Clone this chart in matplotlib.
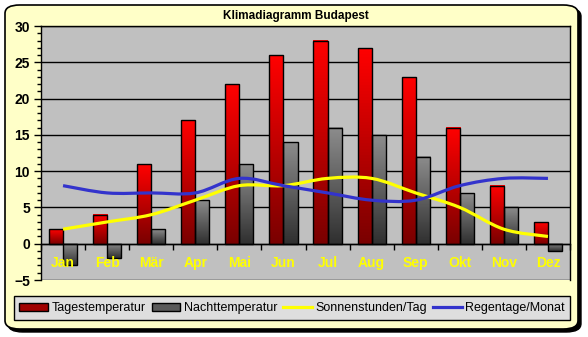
import matplotlib
matplotlib.use('Agg')
import matplotlib.pyplot as plt
import numpy as np
from matplotlib.patches import FancyBboxPatch, Patch
from matplotlib.lines import Line2D
from matplotlib.path import Path
from matplotlib.patches import PathPatch
from matplotlib.colors import LinearSegmentedColormap

months = ['Jan', 'Feb', 'Mär', 'Apr', 'Mai', 'Jun', 'Jul', 'Aug', 'Sep', 'Okt', 'Nov', 'Dez']
tag_temp = [2, 4, 11, 17, 22, 26, 28, 27, 23, 16, 8, 3]
nacht_temp = [-3, -2, 2, 6, 11, 14, 16, 15, 12, 7, 5, -1]
sonne = [2, 3, 4, 6, 8, 8, 9, 9, 7, 5, 2, 1]
regen = [8, 7, 7, 7, 9, 8, 7, 6, 6, 8, 9, 9]

plt.rcParams['font.family'] = ['Liberation Sans', 'DejaVu Sans']

fig = plt.figure(figsize=(5.88, 3.37), dpi=100)
fig.patch.set_facecolor('white')

# rahmen mit schatten
W, H = 588, 337
shadow = FancyBboxPatch((8 / W, 5 / H), 573 / W, 324 / H, boxstyle='round,pad=0,rounding_size=0.025',
                        transform=fig.transFigure, facecolor='black', edgecolor='black', zorder=0)
frame = FancyBboxPatch((5 / W, 8 / H), 573 / W, 324 / H, boxstyle='round,pad=0,rounding_size=0.025',
                       transform=fig.transFigure, facecolor='#FFFFC8', edgecolor='black', lw=1.2, zorder=1)
fig.patches.extend([shadow, frame])

ax = fig.add_axes([41 / W, 1 - 280 / H, 529 / W, 254 / H], zorder=2)
ax.set_facecolor('#C0C0C0')

x = np.arange(len(months))
bw = 0.32

# gitterlinien unter den balken
for yv in range(-5, 31, 5):
    ax.axhline(yv, color='black', lw=1, zorder=0.5)

red_cmap = LinearSegmentedColormap.from_list('r', ['#7A0000', '#FF0000'])
gray_cmap = LinearSegmentedColormap.from_list('g', ['#303030', '#8C8C8C'])
grad = np.linspace(0, 1, 64).reshape(-1, 1)

for i in range(len(months)):
    for val, x0, cm in [(tag_temp[i], x[i] - bw, red_cmap), (nacht_temp[i], x[i], gray_cmap)]:
        lo, hi = min(0, val), max(0, val)
        ax.imshow(grad, cmap=cm, extent=[x0, x0 + bw, lo, hi], origin='lower', aspect='auto', zorder=1)
ax.bar(x - bw / 2, tag_temp, bw, facecolor='none', edgecolor='black', lw=1, zorder=1.2)
ax.bar(x + bw / 2, nacht_temp, bw, facecolor='none', edgecolor='black', lw=1, zorder=1.2)


def smooth(xs, ys):
    pts = np.column_stack([xs, ys]).astype(float)
    n = len(pts)
    verts = [pts[0]]
    codes = [Path.MOVETO]
    for i in range(n - 1):
        p0 = pts[max(i - 1, 0)]
        p1 = pts[i]
        p2 = pts[i + 1]
        p3 = pts[min(i + 2, n - 1)]
        c1 = p1 + (p2 - p0) / 6
        c2 = p2 - (p3 - p1) / 6
        verts += [c1, c2, p2]
        codes += [Path.CURVE4] * 3
    return Path(verts, codes)


ax.add_patch(PathPatch(smooth(x, sonne), facecolor='none', edgecolor='#FFFF00', lw=2.3, zorder=1.5))
ax.add_patch(PathPatch(smooth(x, regen), facecolor='none', edgecolor='#3333CC', lw=2.3, zorder=1.6))

ax.set_xlim(-0.5, 11.5)
ax.set_ylim(-5, 30)
ax.set_yticks(range(-5, 31, 5))
ax.set_yticks(range(-5, 31, 1), minor=True)
ax.set_axisbelow(False)
ax.tick_params(axis='y', which='major', length=5, width=1, labelsize=10, pad=3)
ax.tick_params(axis='y', which='minor', length=3, width=1)
for lab in ax.get_yticklabels():
    lab.set_fontweight('bold')

ax.spines['bottom'].set_position(('data', 0))
ax.set_xticks(np.arange(-0.5, 12, 1))
ax.set_xticklabels([])
ax.set_xticks(x, minor=True)
ax.set_xticklabels(months, minor=True)
ax.tick_params(axis='x', which='major', length=4, width=1, direction='out')
ax.tick_params(axis='x', which='minor', length=0, pad=9, labelsize=10, labelcolor='#FFFF00')
for lab in ax.get_xticklabels(minor=True):
    lab.set_fontweight('bold')
for s in ['top', 'right', 'left', 'bottom']:
    ax.spines[s].set_linewidth(1)

fig.text(296 / W, 1 - 16 / H, 'Klimadiagramm Budapest', ha='center', va='center',
         fontsize=8.5, fontweight='bold', zorder=3)

handles = [Patch(facecolor='#A00000', edgecolor='black'),
           Patch(facecolor='#5A5A5A', edgecolor='black'),
           Line2D([], [], color='#FFFF00', lw=2.3),
           Line2D([], [], color='#3333CC', lw=2.3)]
labels = ['Tagestemperatur', 'Nachttemperatur', 'Sonnenstunden/Tag', 'Regentage/Monat']
leg = fig.legend(handles, labels, loc='center', ncol=4,
                 bbox_to_anchor=(292 / W, 1 - 308 / H),
                 frameon=True, fancybox=False, facecolor='#DEDEDE', edgecolor='black',
                 framealpha=1, handlelength=2.3, handleheight=0.6, handletextpad=0.25,
                 columnspacing=0.5, borderpad=0.45, borderaxespad=0,
                 prop={'size': 9})
leg.set_zorder(3)
leg.get_frame().set_linewidth(1)

fig.savefig('out.png', dpi=100)
